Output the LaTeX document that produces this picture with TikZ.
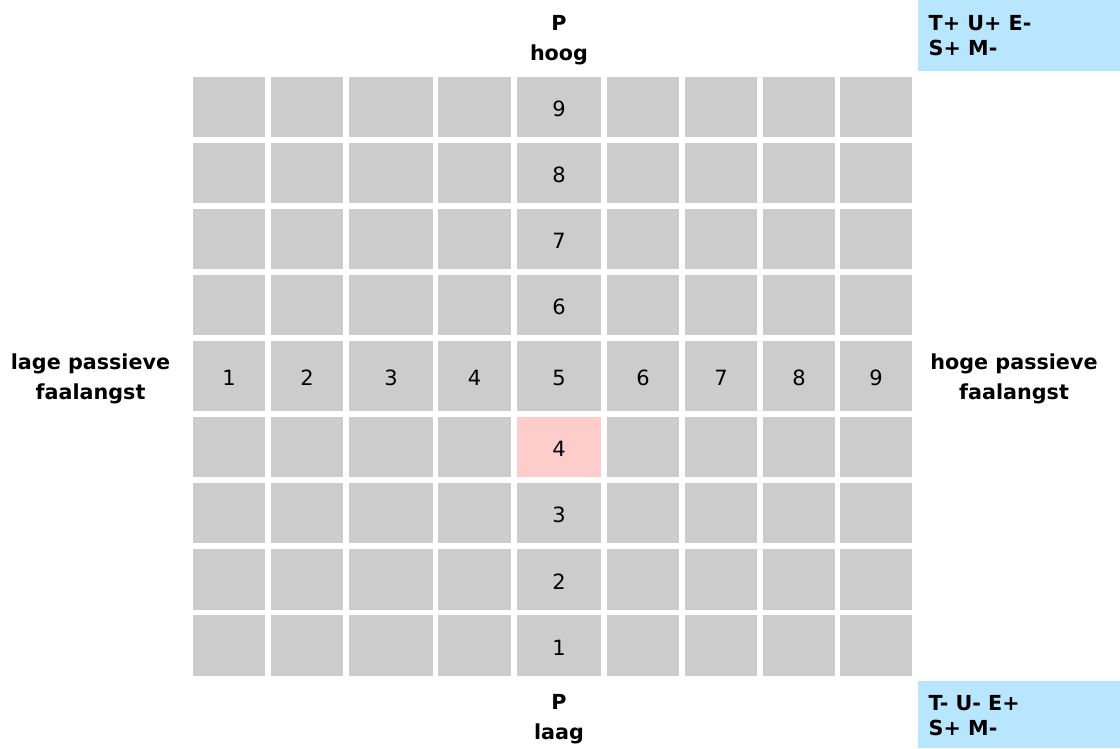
\documentclass[tikz,border=0pt]{standalone}
\usepackage{fontspec}
\setmainfont{DejaVu Sans}
\definecolor{cellgrey}{HTML}{CCCCCC}
\definecolor{cellpink}{HTML}{FFCCCC}
\definecolor{tagblue}{RGB}{184,230,255}
\begin{document}
\begin{tikzpicture}[x=1pt,y=-1pt,
  cell/.style={fill=cellgrey, inner sep=0pt, outer sep=0pt, anchor=north west},
  num/.style={font=\fontsize{21}{25}\selectfont, anchor=base, inner sep=0pt, text=black},
  lbl/.style={font=\fontsize{20.7}{24}\selectfont\bfseries, anchor=base, inner sep=0pt, text=black},
  tagtxt/.style={font=\fontsize{20.7}{24}\selectfont\bfseries, anchor=base west, inner sep=0pt, text=black},
  tag/.style={fill=tagblue, inner sep=0pt, outer sep=0pt, anchor=north west}]
\useasboundingbox (0,0) rectangle (1120,748);
% grid
\foreach \cx/\cw [count=\i] in {193/72,271/72,349/84,438/73,517/84,607/72,685/72,763/72,840/72}{
  \foreach \ry/\rh [count=\j] in {77/60,143/60,209/60,275/60,341/70,417/60,483/60,549/61,615/61}{
    \node[cell, minimum width=\cw pt, minimum height=\rh pt] (c\i-\j) at (\cx,\ry) {};
  }
}
% highlighted cell
\node[cell, fill=cellpink, minimum width=84pt, minimum height=60pt] (c5-6h) at (517,417) {};
% vertical numbers (column 5)
\foreach \j/\v in {1/9,2/8,3/7,4/6,6/4,7/3,8/2,9/1}{
  \node[num] (v\v) at ([yshift=-9.7pt]c5-\j.center) {\v};
}
% horizontal numbers (row 5)
\foreach \i in {1,...,9}{
  \node[num] (h\i) at ([yshift=-9.7pt]c\i-5.center) {\i};
}
% axis labels
\node[lbl] (ptop) at (559,30.5) {P};
\node[lbl] (hoog) at (559,60.5) {hoog};
\node[lbl] (pbot) at (559,709) {P};
\node[lbl] (laag) at (559,739) {laag};
\node[lbl] (lage1) at (90.5,369.5) {lage passieve};
\node[lbl] (lage2) at (90.5,399) {faalangst};
\node[lbl] (hoge1) at (1014,369.5) {hoge passieve};
\node[lbl] (hoge2) at (1014,399) {faalangst};
% tags
\node[tag, minimum width=202pt, minimum height=71pt] (tagtop) at (918,0) {};
\node[tag, minimum width=202pt, minimum height=67pt] (tagbot) at (918,681) {};
\node[tagtxt] (tt1) at (928.5,30) {T+ U+ E-};
\node[tagtxt] (tt2) at (928.5,55) {S+ M-};
\node[tagtxt] (tb1) at (928.5,710) {T- U- E+};
\node[tagtxt] (tb2) at (928.5,735) {S+ M-};
\end{tikzpicture}
\end{document}
